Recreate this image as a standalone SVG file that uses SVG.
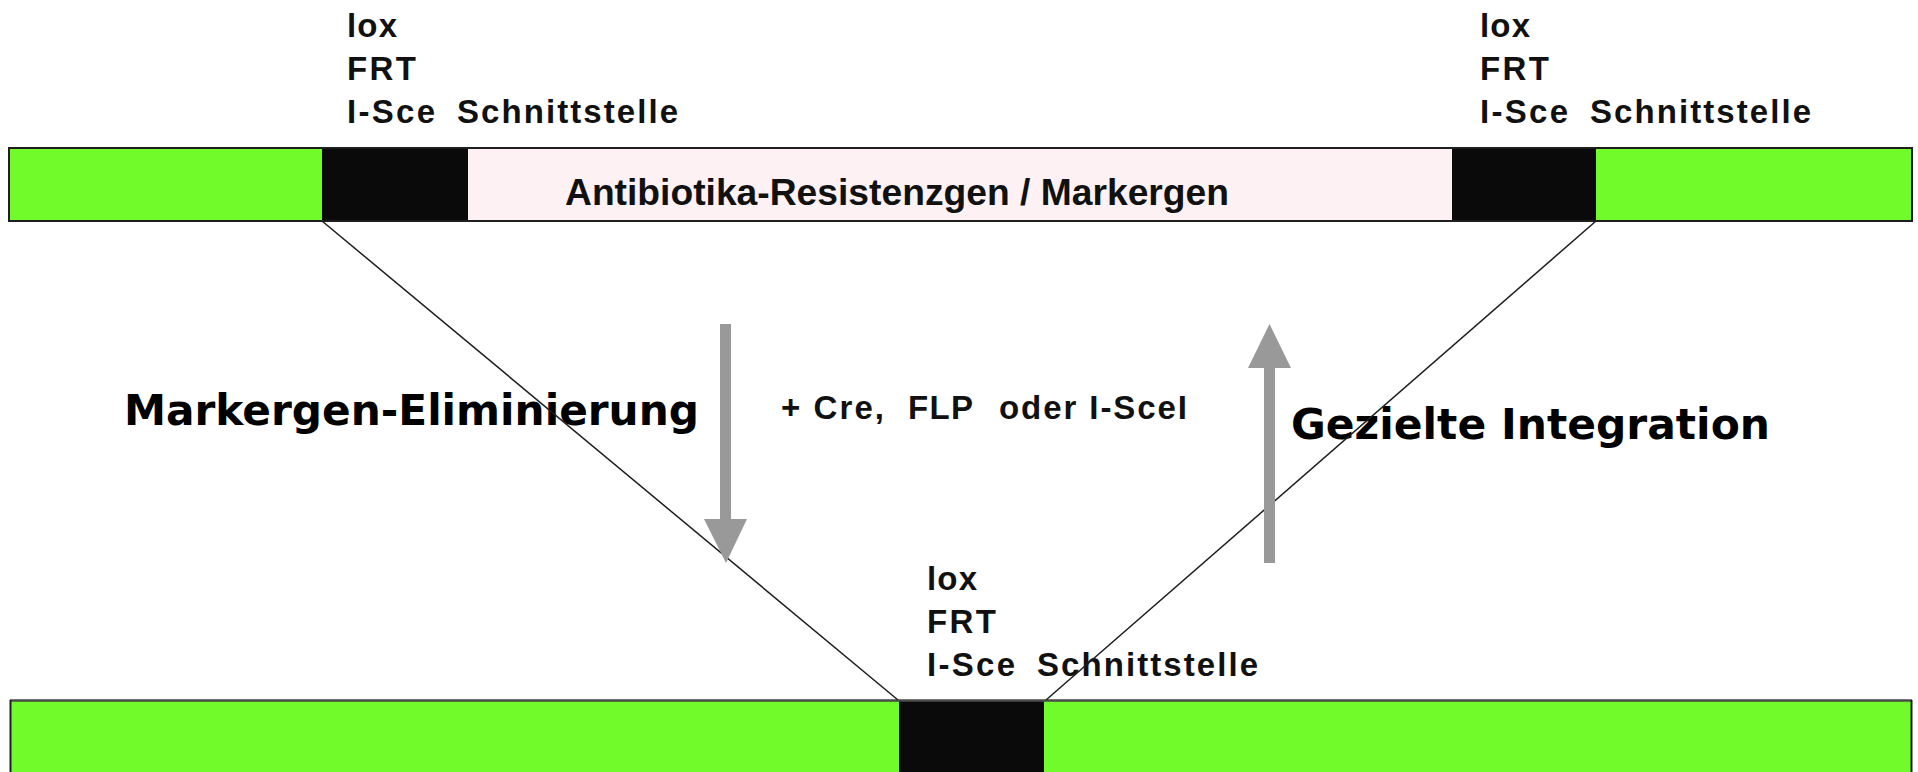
<svg xmlns="http://www.w3.org/2000/svg" width="1918" height="772" viewBox="0 0 1918 772">
  <style>
    .green { fill: #72fb2b; }
    .site { fill: #0a0a0a; }
    .marker { fill: #fdf1f4; }
    .frame { fill: none; stroke: #1e1e1e; stroke-width: 2; }
    .lbl { font-family: "Liberation Sans", Arial, sans-serif; font-weight: bold; font-size: 33px; fill: #111; }
    .gene { font-family: "Liberation Sans", Arial, sans-serif; font-weight: bold; font-size: 37px; fill: #111; }
    .title { font-family: "DejaVu Sans", Verdana, sans-serif; font-weight: bold; font-size: 42px; fill: #000; }
    .link { stroke: #1e1e1e; stroke-width: 1.5; fill: none; }
    .flow { fill: #999999; }
  </style>

  <!-- construct carrying the selectable marker gene -->
  <g id="top-construct">
    <rect class="green" x="9" y="148" width="313" height="73"/>
    <rect class="site" x="322" y="148" width="146" height="73"/>
    <rect class="marker" x="468" y="148" width="984" height="73"/>
    <rect class="site" x="1452" y="148" width="144" height="73"/>
    <rect class="green" x="1596" y="148" width="316" height="73"/>
    <rect class="frame" x="9" y="148" width="1903" height="73"/>
    <text class="gene" x="565" y="205" textLength="664" lengthAdjust="spacingAndGlyphs">Antibiotika-Resistenzgen / Markergen</text>
  </g>

  <!-- recognition site labels, upper left -->
  <g id="site-left">
    <text class="lbl" x="347" y="37" textLength="50" lengthAdjust="spacing">lox</text>
    <text class="lbl" x="347" y="80" textLength="69" lengthAdjust="spacing">FRT</text>
    <text class="lbl" y="123"><tspan x="347" textLength="88" lengthAdjust="spacing">I-Sce</tspan><tspan x="457" textLength="221" lengthAdjust="spacing">Schnittstelle</tspan></text>
  </g>

  <!-- recognition site labels, upper right -->
  <g id="site-right">
    <text class="lbl" x="1480" y="37" textLength="50" lengthAdjust="spacing">lox</text>
    <text class="lbl" x="1480" y="80" textLength="69" lengthAdjust="spacing">FRT</text>
    <text class="lbl" y="123"><tspan x="1480" textLength="88" lengthAdjust="spacing">I-Sce</tspan><tspan x="1590" textLength="221" lengthAdjust="spacing">Schnittstelle</tspan></text>
  </g>

  <!-- construct after excision: single remaining site -->
  <g id="bottom-construct">
    <rect class="green" x="10" y="700" width="889" height="80"/>
    <rect class="site" x="899" y="700" width="145" height="80"/>
    <rect class="green" x="1044" y="700" width="868" height="80"/>
    <line x1="10" y1="700.5" x2="1912" y2="700.5" stroke="#4a4a4a" stroke-width="2.5"/>
    <line x1="10.5" y1="700" x2="10.5" y2="772" stroke="#1e1e1e" stroke-width="2"/>
    <line x1="1911.5" y1="700" x2="1911.5" y2="772" stroke="#1e1e1e" stroke-width="2"/>
  </g>

  <g id="site-bottom">
    <text class="lbl" x="927" y="590" textLength="50" lengthAdjust="spacing">lox</text>
    <text class="lbl" x="927" y="633" textLength="69" lengthAdjust="spacing">FRT</text>
    <text class="lbl" y="676"><tspan x="927" textLength="88" lengthAdjust="spacing">I-Sce</tspan><tspan x="1037" textLength="221" lengthAdjust="spacing">Schnittstelle</tspan></text>
  </g>

  <!-- process labels -->
  <g id="label-elimination">
    <text class="title" x="124" y="425" textLength="575" lengthAdjust="spacingAndGlyphs">Markergen-Eliminierung</text>
  </g>
  <g id="label-enzymes">
    <text class="lbl" y="419"><tspan x="781" textLength="103" lengthAdjust="spacing">+ Cre,</tspan><tspan x="908" textLength="65" lengthAdjust="spacing">FLP</tspan><tspan x="999" textLength="188" lengthAdjust="spacing">oder I-SceI</tspan></text>
  </g>
  <g id="label-integration">
    <text class="title" x="1291" y="439" textLength="479" lengthAdjust="spacingAndGlyphs">Gezielte Integration</text>
  </g>

  <!-- connectors: projection lines and direction arrows -->
  <g id="connectors">
    <line class="link" x1="322" y1="221" x2="898" y2="700"/>
    <line class="link" x1="1596" y1="221" x2="1046" y2="700"/>
    <rect class="flow" x="720" y="324" width="11" height="196"/>
    <polygon class="flow" points="704,519 747,519 726,563"/>
    <rect class="flow" x="1264" y="367" width="11" height="196"/>
    <polygon class="flow" points="1248,368 1291,368 1269.5,324"/>
  </g>
</svg>
